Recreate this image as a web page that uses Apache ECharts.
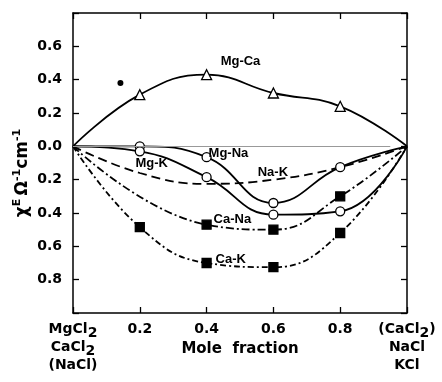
<!DOCTYPE html>
<html>
<head>
<meta charset="utf-8">
<script src="https://cdn.jsdelivr.net/npm/echarts@6/dist/echarts.min.js"></script>
<style>
  html, body { margin: 0; padding: 0; background: #fff; }
  #chart { width: 442px; height: 382px; }
</style>
</head>
<body>
<div id="chart"></div>
<script>
// mole fraction of the second component
const molFrac = [0, 0.2, 0.4, 0.6, 0.8, 1.0];
// excess conductivity, Ω^-1 cm^-1
const mgCa = [0, 0.31, 0.43, 0.32, 0.24, 0];
const mgNa = [0, 0.0, -0.065, -0.34, -0.125, 0];
const mgK = [0, -0.03, -0.185, -0.41, -0.39, 0];
const caK = [0, -0.485, -0.70, -0.725, -0.52, 0];
// Ca-Na has no measured point at 0.2
const caNaX = [0, 0.4, 0.6, 0.8, 1.0];
const caNa = [0, -0.47, -0.50, -0.30, 0];
// Na-K drawn as a curve only
const naKX = [0, 0.2, 0.4, 0.6, 0.8, 1.0];
const naK = [0, -0.16, -0.225, -0.2, -0.125, 0];
const strayDot = [[0.142, 0.38]];

const curveLabels = [
  { name: 'Mg-Ca', value: [0.442, 0.508] },
  { name: 'Mg-Na', value: [0.406, -0.044] },
  { name: 'Mg-K', value: [0.187, -0.104] },
  { name: 'Na-K', value: [0.553, -0.158] },
  { name: 'Ca-Na', value: [0.421, -0.438] },
  { name: 'Ca-K', value: [0.427, -0.68] },
];

const FONT = 'DejaVu Sans';
const LABEL_FONT = 'Liberation Sans';

function toPoints(xs, ys, symbol) {
  return xs.map((x, i) => {
    const ends = x === 0 || x === 1;
    return { value: [x, ys[i]], symbol: ends ? 'none' : symbol };
  });
}

function curve(name, xs, ys, symbol, lineType, filled) {
  return {
    name,
    type: 'line',
    smooth: 0.45,
    data: toPoints(xs, ys, symbol),
    symbolSize: symbol === 'triangle' ? 10 : 9,
    showAllSymbol: true,
    lineStyle: { color: '#000', width: 1.8, type: lineType },
    itemStyle: { color: filled ? '#000' : '#fff', borderColor: '#000', borderWidth: 1.3 },
    z: 3,
  };
}

const chart = echarts.init(document.getElementById('chart'));

const subRich = {
  t: { fontFamily: FONT, fontWeight: 'bold', fontSize: 14, color: '#000', lineHeight: 18, verticalAlign: 'top' },
  s: { fontFamily: FONT, fontWeight: 'bold', fontSize: 14, color: '#000', lineHeight: 18, padding: [4, 0, 0, 0], verticalAlign: 'top' },
};

const axisLine = { onZero: false, lineStyle: { color: '#000', width: 1.5 } };
const axisTick = { inside: true, length: 6, lineStyle: { color: '#000', width: 1.3 } };

chart.setOption({
  animation: false,
  grid: { left: 73, right: 35, top: 13, bottom: 69, containLabel: false },
  xAxis: [
    {
      type: 'value',
      min: 0,
      max: 1,
      interval: 0.2,
      name: 'Mole  fraction',
      nameLocation: 'middle',
      nameGap: 29,
      nameMoveOverlap: false,
      nameTextStyle: { fontFamily: FONT, fontWeight: 'bold', fontSize: 15, color: '#000' },
      axisLine,
      axisTick,
      splitLine: { show: false },
      axisLabel: {
        margin: 9,
        showMinLabel: true,
        showMaxLabel: true,
        formatter: (v) => {
          if (v === 0) return '{t|MgCl}{s|2}\n{t|CaCl}{s|2}\n{t|(NaCl)}';
          if (v === 1) return '{t|(CaCl}{s|2}{t|)}\n{t|NaCl}\n{t|KCl}';
          return '{t|' + v.toFixed(1) + '}';
        },
        rich: subRich,
      },
    },
    {
      type: 'value',
      position: 'top',
      min: 0,
      max: 1,
      interval: 0.2,
      axisLine,
      axisTick,
      axisLabel: { show: false },
      splitLine: { show: false },
    },
  ],
  yAxis: [
    {
      type: 'value',
      min: -1.0,
      max: 0.8,
      interval: 0.2,
      name: '{a|χ}{p|E} {a|Ω}{p|-1}{a|cm}{p|-1}',
      nameLocation: 'middle',
      nameGap: 42,
      nameMoveOverlap: false,
      nameTextStyle: {
        padding: [0, 20, 0, 0],
        rich: {
          a: { fontFamily: FONT, fontWeight: 'bold', fontSize: 17, color: '#000', lineHeight: 19, verticalAlign: 'bottom' },
          p: { fontFamily: FONT, fontWeight: 'bold', fontSize: 11, color: '#000', lineHeight: 12, verticalAlign: 'top' },
        },
      },
      axisLine,
      axisTick,
      splitLine: { show: false },
      axisLabel: {
        margin: 11,
        fontFamily: FONT,
        fontWeight: 'bold',
        fontSize: 14,
        color: '#000',
        formatter: (v) => {
          if (v > 0.7 || v < -0.9) return '';
          return Math.abs(v).toFixed(1);
        },
      },
    },
    {
      type: 'value',
      position: 'right',
      min: -1.0,
      max: 0.8,
      interval: 0.2,
      axisLine,
      axisTick,
      axisLabel: { show: false },
      splitLine: { show: false },
    },
  ],
  series: [
    {
      name: 'zero',
      type: 'line',
      data: [],
      markLine: {
        silent: true,
        symbol: 'none',
        label: { show: false },
        lineStyle: { color: '#999', width: 1, type: 'solid' },
        data: [[{ coord: [0, 0] }, { coord: [0.95, 0] }]],
      },
    },
    curve('Mg-Ca', molFrac, mgCa, 'triangle', 'solid', false),
    curve('Mg-Na', molFrac, mgNa, 'circle', 'solid', false),
    curve('Mg-K', molFrac, mgK, 'circle', 'solid', false),
    curve('Na-K', naKX, naK, 'none', [9, 5], false),
    curve('Ca-Na', caNaX, caNa, 'rect', [8, 3, 2, 3], true),
    curve('Ca-K', molFrac, caK, 'rect', [6, 3, 2, 3], true),
    {
      name: 'dot',
      type: 'scatter',
      data: strayDot,
      symbolSize: 6,
      itemStyle: { color: '#000', opacity: 1 },
    },
    {
      name: 'labels',
      type: 'scatter',
      data: curveLabels,
      symbolSize: 0,
      silent: true,
      itemStyle: { opacity: 1 },
      label: {
        show: true,
        position: 'right',
        distance: 0,
        formatter: '{b}',
        fontFamily: LABEL_FONT,
        fontWeight: 'bold',
        fontSize: 13,
        color: '#000',
      },
      z: 5,
    },
  ],
});
</script>
</body>
</html>
